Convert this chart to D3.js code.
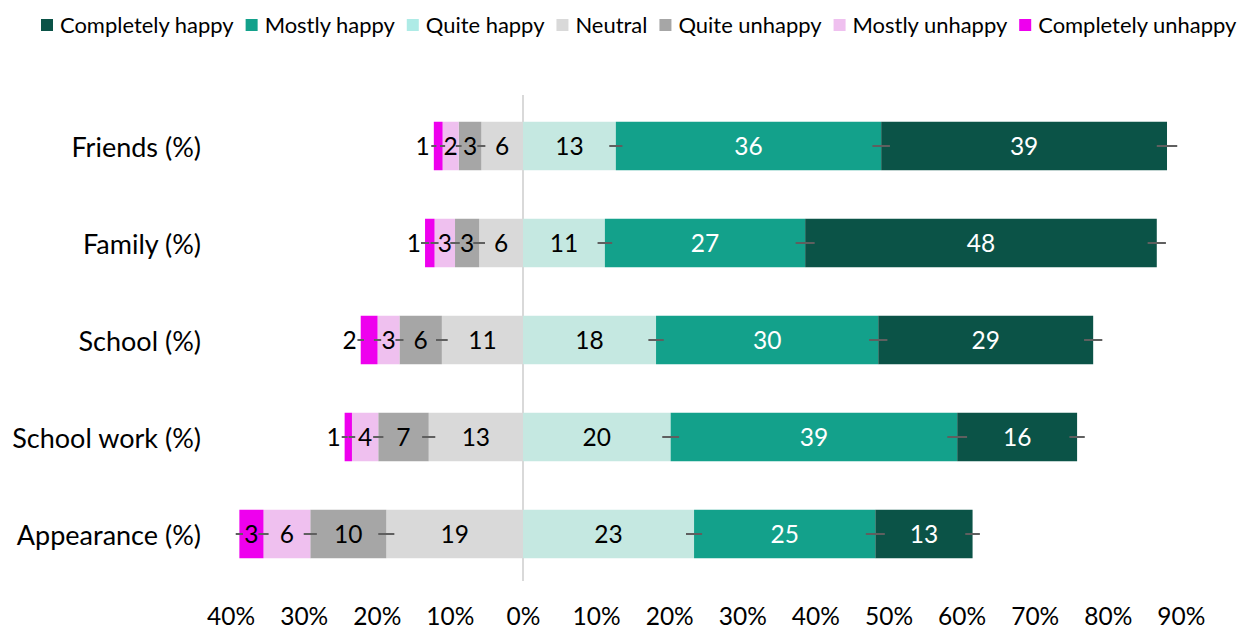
<!DOCTYPE html>
<html>
<head>
<meta charset="utf-8">
<script src="https://cdn.jsdelivr.net/npm/d3@7"></script>
<style>
  html, body { margin: 0; padding: 0; background: #fff; }
  svg { display: block; font-family: Lato, "Open Sans", sans-serif; }
</style>
</head>
<body>
<svg id="chart" width="1239" height="630"></svg>
<script>
// ---- data ----
const categories = ["Friends (%)", "Family (%)", "School (%)", "School work (%)", "Appearance (%)"];
const seriesNames = ["Completely happy", "Mostly happy", "Quite happy", "Neutral", "Quite unhappy", "Mostly unhappy", "Completely unhappy"];
// positive side (stacked outward from 0)
const quiteHappy      = [12.7, 11.2, 18.2, 20.2, 23.4];
const mostlyHappy     = [36.3, 27.4, 30.4, 39.2, 24.8];
const completelyHappy = [39.1, 48.1, 29.4, 16.4, 13.3];
// negative side (stacked outward from 0)
const neutral           = [5.7, 6.0, 11.1, 12.9, 18.7];
const quiteUnhappy      = [3.1, 3.3, 5.8, 6.9, 10.4];
const mostlyUnhappy     = [2.2, 2.8, 3.0, 3.6, 6.4];
const completelyUnhappy = [1.2, 1.3, 2.3, 1.0, 3.3];
// error bar half-widths (percentage points)
const errQH = [0.9, 1.0, 1.05, 1.15, 1.1];
const errMH = [1.2, 1.3, 1.25, 1.35, 1.3];
const errCH = [1.4, 1.25, 1.25, 1.05, 1.0];
const errN  = [0.55, 0.8, 0.8, 0.9, 1.1];
const errQU = [0.4, 0.65, 0.55, 0.7, 0.9];
const errMU = [0.35, 0.55, 0.5, 0.45, 0.7];
const errCU = [0.35, 0.55, 0.45, 0.4, 0.5];
const tickValues = [-40, -30, -20, -10, 0, 10, 20, 30, 40, 50, 60, 70, 80, 90];
const tickLabels = ["40%", "30%", "20%", "10%", "0%", "10%", "20%", "30%", "40%", "50%", "60%", "70%", "80%", "90%"];

// ---- styles ----
const barColors = {
  "Completely happy": "#0b5347", "Mostly happy": "#13a18b", "Quite happy": "#c5e8e1",
  "Neutral": "#d9d9d9", "Quite unhappy": "#a6a6a6", "Mostly unhappy": "#efc0ef", "Completely unhappy": "#ee00ee"
};
const legendColors = Object.assign({}, barColors, { "Quite happy": "#aeebe6" });
const labelColors = {
  "Completely happy": "#ffffff", "Mostly happy": "#ffffff", "Quite happy": "#000",
  "Neutral": "#000", "Quite unhappy": "#000", "Mostly unhappy": "#000", "Completely unhappy": "#000"
};

const svg = d3.select("#chart");
const x = d3.scaleLinear().domain([-40, 90]).range([230.6, 1180.9]);
const y = d3.scaleBand().domain(categories).range([97.5, 582.5]).paddingInner(0.5).paddingOuter(0.25);

// build segments
const posSeries = [["Quite happy", quiteHappy, errQH], ["Mostly happy", mostlyHappy, errMH], ["Completely happy", completelyHappy, errCH]];
const negSeries = [["Neutral", neutral, errN], ["Quite unhappy", quiteUnhappy, errQU], ["Mostly unhappy", mostlyUnhappy, errMU], ["Completely unhappy", completelyUnhappy, errCU]];
const segs = [];
categories.forEach((c, i) => {
  let acc = 0;
  posSeries.forEach(([name, vals, errs]) => {
    segs.push({ cat: c, name, v: vals[i], x0: acc, x1: acc + vals[i], end: acc + vals[i], err: errs[i] });
    acc += vals[i];
  });
  acc = 0;
  negSeries.forEach(([name, vals, errs]) => {
    segs.push({ cat: c, name, v: vals[i], x0: acc - vals[i], x1: acc, end: acc - vals[i], err: errs[i] });
    acc -= vals[i];
  });
});

// zero line
svg.append("line")
  .attr("x1", x(0)).attr("x2", x(0))
  .attr("y1", 95).attr("y2", 581)
  .attr("stroke", "#d9d9d9").attr("stroke-width", 2);

// bars
svg.append("g").selectAll("rect").data(segs).join("rect")
  .attr("x", d => x(d.x0))
  .attr("width", d => x(d.x1) - x(d.x0))
  .attr("y", d => y(d.cat))
  .attr("height", y.bandwidth())
  .attr("fill", d => barColors[d.name]);

// error bars
svg.append("g").selectAll("line").data(segs).join("line")
  .attr("x1", d => x(d.end - d.err))
  .attr("x2", d => x(d.end + d.err))
  .attr("y1", d => y(d.cat) + y.bandwidth() / 2)
  .attr("y2", d => y(d.cat) + y.bandwidth() / 2)
  .attr("stroke", "#5f5f5f").attr("stroke-width", 2);

// data labels
const isOutside = d => d.name === "Completely unhappy" && (x(d.x1) - x(d.x0)) < 20;
svg.append("g").selectAll("text").data(segs).join("text")
  .attr("x", d => isOutside(d) ? x(d.x0) - 4 : (x(d.x0) + x(d.x1)) / 2)
  .attr("text-anchor", d => isOutside(d) ? "end" : "middle")
  .attr("y", d => y(d.cat) + y.bandwidth() / 2)
  .attr("dy", "0.36em")
  .attr("font-size", 24.5)
  .attr("fill", d => labelColors[d.name])
  .text(d => Math.round(d.v));

// category labels
svg.append("g").selectAll("text").data(categories).join("text")
  .attr("x", 201)
  .attr("y", d => y(d) + y.bandwidth() / 2 + 1)
  .attr("dy", "0.36em")
  .attr("text-anchor", "end")
  .attr("font-size", 27)
  .attr("fill", "#000")
  .text(d => d);

// x axis tick labels
const xAxis = d3.axisBottom(x).tickValues(tickValues).tickSize(0)
  .tickFormat((d, i) => tickLabels[i]);
const gx = svg.append("g").attr("transform", "translate(0,625)").call(xAxis);
gx.select(".domain").remove();
gx.selectAll("text").attr("y", 0).attr("dy", 0)
  .attr("font-size", 24.5).attr("font-family", "Lato, sans-serif").attr("fill", "#000");

// legend (flow layout, fitted to reference width)
const legend = svg.append("g");
const legStart = 41, legEnd = 1237, sw = 12, gapText = 7, gapItem = 12;
const probe = legend.append("text").attr("font-size", 20);
let total = 0;
seriesNames.forEach(n => { probe.text(n); total += probe.node().getComputedTextLength(); });
probe.remove();
const fixed = seriesNames.length * (sw + gapText) + (seriesNames.length - 1) * gapItem;
const legFont = 20 * (legEnd - legStart - fixed) / total;
let lx = legStart;
seriesNames.forEach(name => {
  const g = legend.append("g");
  g.append("rect").attr("x", lx).attr("y", 19).attr("width", sw).attr("height", sw).attr("fill", legendColors[name]);
  const t = g.append("text").attr("x", lx + sw + gapText).attr("y", 25).attr("dy", "0.36em")
    .attr("font-size", legFont).attr("fill", "#000").text(name);
  lx += sw + gapText + t.node().getComputedTextLength() + gapItem;
});
</script>
</body>
</html>
